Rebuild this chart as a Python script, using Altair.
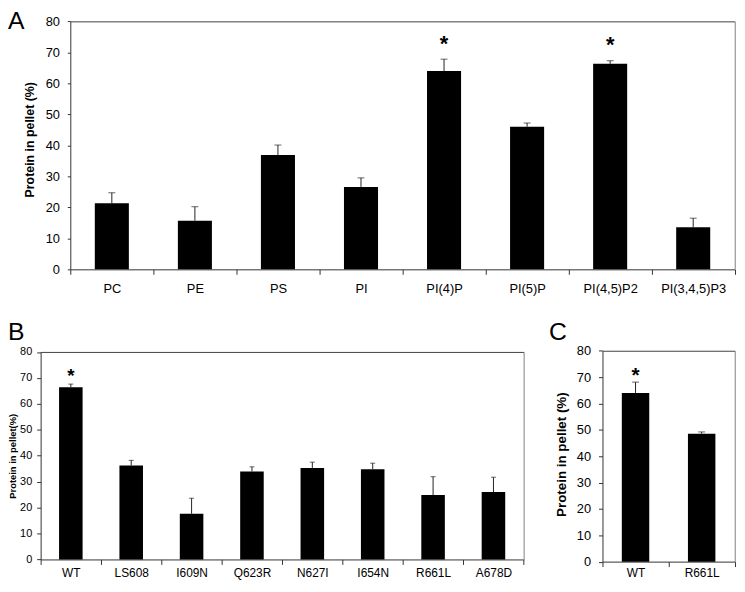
import altair as alt
import pandas as pd

# ---------------- data ----------------
y_ticks = [0, 10, 20, 30, 40, 50, 60, 70, 80]

a_cats = ["PC", "PE", "PS", "PI", "PI(4)P", "PI(5)P", "PI(4,5)P2", "PI(3,4,5)P3"]
a_vals = [21.3, 15.7, 36.9, 26.6, 64.0, 46.0, 66.3, 13.6]
a_tops = [24.7, 20.2, 40.1, 29.5, 67.8, 47.2, 67.3, 16.5]
a_star = [False, False, False, False, True, False, True, False]

b_cats = ["WT", "LS608", "I609N", "Q623R", "N627I", "I654N", "R661L", "A678D"]
b_vals = [66.4, 36.2, 17.6, 33.9, 35.3, 34.8, 24.8, 26.0]
b_tops = [67.6, 38.2, 23.6, 35.7, 37.5, 37.1, 31.9, 31.7]
b_star = [True, False, False, False, False, False, False, False]

c_cats = ["WT", "R661L"]
c_vals = [64.0, 48.5]
c_tops = [68.1, 49.2]
c_star = [True, False]

# ---------------- layout ----------------
W, H = 737, 584          # whole canvas (page minus 8px margin)
M = 8                    # page margin
FONT = "Liberation Sans"


def panel(cats, vals, tops, stars, frame, ylab, xlab, title, tsize, title_pos,
          ytick, ypad, xpad, bar_frac, cap, star_size, star_dy):
    left, right, top, bottom = [v - M for v in frame]
    df = pd.DataFrame({
        "cat": cats, "val": vals, "top": tops,
        "star": ["*" if s else "" for s in stars],
    })
    xs = alt.Scale(domain=cats, range=[left, right], paddingInner=0, paddingOuter=0)
    ys = alt.Scale(domain=[0, 80], range=[bottom, top], nice=False, zero=True)
    base = alt.Chart(df)

    bars = base.mark_bar(color="black", width=alt.RelativeBandSize(bar_frac)).encode(
        x=alt.X("cat:N", sort=cats, scale=xs,
                axis=alt.Axis(orient="bottom", offset=bottom - H, tickBand="extent",
                              labelAngle=0, title=None, labelFontSize=xlab,
                              labelPadding=xpad, tickSize=5, labelColor="black",
                              domainColor="#333333", tickColor="#333333",
                              labelFont=FONT)),
        y=alt.Y("val:Q", scale=ys,
                axis=alt.Axis(orient="left", offset=-left, values=y_ticks,
                              grid=False, tickSize=ytick, labelPadding=ypad,
                              labelFontSize=ylab, labelColor="black", labelFont=FONT,
                              domainColor="#333333", tickColor="#333333",
                              title=title, titleFont=FONT, titleFontSize=tsize,
                              titleFontWeight="bold", titleColor="black",
                              titleAngle=270, titleAlign="center",
                              titleBaseline="middle",
                              titleX=title_pos[0] - M - left,
                              titleY=title_pos[1] - M)),
    )
    err = base.mark_rule(color="#222222", strokeWidth=1).encode(
        x=alt.X("cat:N", sort=cats, scale=xs,
                axis=alt.Axis(orient="top", offset=-top, labels=False, ticks=False,
                              title=None, domainColor="#404040")),
        y=alt.Y("val:Q", scale=ys,
                axis=alt.Axis(orient="right", offset=right - W, labels=False,
                              ticks=False, grid=False, title=None,
                              domainColor="#808080")),
        y2="top:Q",
    )
    caps = base.mark_tick(orient="horizontal", size=cap, thickness=1,
                          color="#222222").encode(
        x=alt.X("cat:N", sort=cats, scale=xs, axis=None),
        y=alt.Y("top:Q", scale=ys, axis=None),
    )
    star = base.transform_filter("datum.star != ''").mark_text(
        baseline="alphabetic", align="center", dy=star_dy, fontSize=star_size,
        fontWeight="bold", font=FONT, color="black").encode(
        x=alt.X("cat:N", sort=cats, scale=xs, axis=None),
        y=alt.Y("top:Q", scale=ys, axis=None),
        text="star:N",
    )
    return [bars, err, caps, star]


layers = []
layers += panel(a_cats, a_vals, a_tops, a_star, (71, 742.7, 18.3, 269),
                13, 13, "Protein in pellet (%)", 12.5, (30, 137.5),
                3, 8, 8.5, 0.41, 7, 22, -8.5)
layers += panel(b_cats, b_vals, b_tops, b_star, (41, 529.3, 352.5, 562.3),
                11, 12, "Protein in pellet(%)", 9.5, (13, 457.5),
                4, 5, 3.5, 0.39, 5, 19, -2.5)
layers += panel(c_cats, c_vals, c_tops, c_star, (609, 742.7, 351.3, 564.5),
                13, 12, "Protein in pellet (%)", 13.5, (567.5, 455.8),
                4, 8, 1.3, 0.415, 7, 21, -0.5)

letters = ["A", "B", "C"]
letter_pos = [(8, 26), (8, 340), (555, 340)]
for (t, (px, py)) in zip(letters, letter_pos):
    layers.append(
        alt.Chart(pd.DataFrame({"t": [t]})).mark_text(
            align="left", baseline="alphabetic", fontSize=25, font=FONT,
            color="black").encode(
            x=alt.value(px - M), y=alt.value(py - M), text="t:N")
    )

chart = alt.layer(*layers).resolve_scale(
    x="independent", y="independent"
).resolve_axis(
    x="independent", y="independent"
).properties(
    width=W, height=H, padding=0,
    autosize=alt.AutoSizeParams(type="none"),
    background="white",
).configure_view(strokeWidth=0)

chart.save("out.html", embed_options={"renderer": "svg", "actions": False})
